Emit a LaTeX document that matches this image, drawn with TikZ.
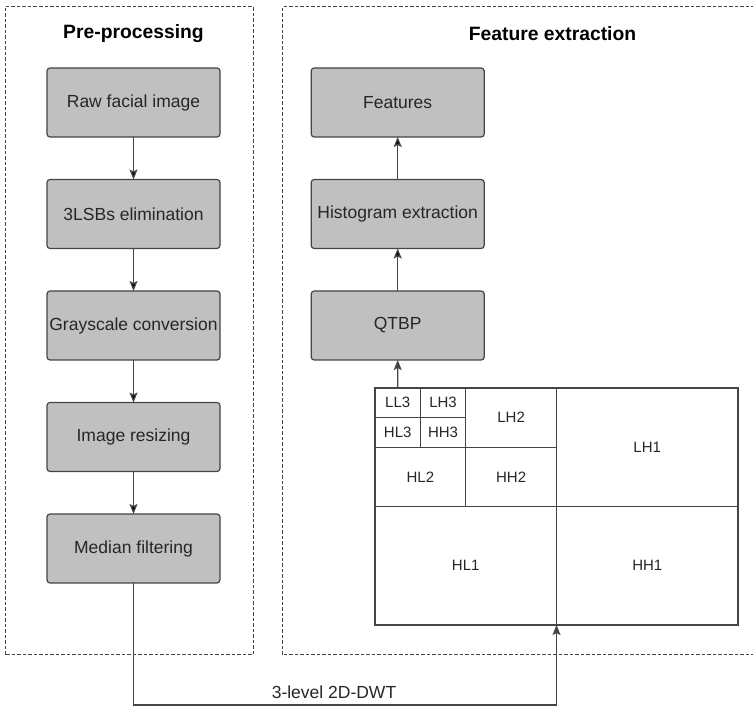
\documentclass[tikz,border=0pt]{standalone}
\usepackage{fontspec}
\setmainfont{Liberation Sans}
\usepackage{tikz}
\usetikzlibrary{positioning, arrows.meta}
\definecolor{boxgray}{HTML}{C0C0C0}
\definecolor{linegray}{HTML}{454545}
\tikzset{
>={Stealth[length=10pt, width=8pt, inset=2pt]}, % filled arrow heads
node distance=42.5pt, % gap between two stacked boxes
stage/.style={draw=linegray, line width=1.2pt, fill=boxgray, rounded corners=3pt, outer sep=0pt, minimum width=173pt, minimum height=69pt, inner xsep=1pt, text=black!85, font=\fontsize{17.5}{20}\selectfont}, % grey process boxes
panel/.style={draw=linegray, line width=1pt, dash pattern=on 3.5pt off 2pt}, % dashed frames
title/.style={font=\fontsize{19.3}{22}\selectfont\bfseries},
band/.style={draw=linegray, line width=1.2pt, outer sep=0pt, inner sep=0pt, text=black!85, font=\fontsize{15}{17}\selectfont}, % DWT sub-bands
bandA/.style={band, minimum width=181.5pt, minimum height=118.5pt},
bandB/.style={band, minimum width=90.75pt, minimum height=59.25pt},
bandC/.style={band, minimum width=45.375pt, minimum height=29.625pt},
flow/.style={->, draw=linegray, line width=1.2pt},
}

\begin{document}
\begin{tikzpicture}
    \useasboundingbox (0,0) rectangle (753pt,709pt);
    % Frames
    \draw[panel] (5pt,54pt) rectangle (253pt,702pt);
    \draw[panel] (282.5pt,54pt) rectangle (822pt,702pt);
    \node[title] (pretitle) at (133.5pt,675pt) {Pre-processing};
    \node[title] (feattitle) at (552.5pt,675pt) {Feature extraction};

    % Pre-processing
    \node[stage] (raw) at (133.5pt,606.5pt) {Raw facial image};
    \node[stage, below=of raw] (lsb) {3LSBs elimination};
    \node[stage, below=of lsb] (gray) {Grayscale conversion};
    \node[stage, below=of gray] (resize) {Image resizing};
    \node[stage, below=of resize] (median) {Median filtering};
    \draw[flow]
    (raw) edge (lsb)
    (lsb) edge (gray)
    (gray) edge (resize)
    (resize) edge (median);

    % Feature extraction
    \node[stage] (feat) at (397.7pt,606.5pt) {Features};
    \node[stage, below=of feat] (hist) {Histogram extraction};
    \node[stage, below=of hist] (qtbp) {QTBP};
    \draw[flow]
    (qtbp) edge (hist)
    (hist) edge (feat);

    % 3-level DWT sub-bands
    \node[bandA, anchor=south west] (hl1) at (375pt,84pt) {HL1};
    \node[bandA, right=0pt of hl1] (hh1) {HH1};
    \node[bandA, above=0pt of hh1] (lh1) {LH1};
    \node[bandB, anchor=south west] (hl2) at (hl1.north west) {HL2};
    \node[bandB, right=0pt of hl2] (hh2) {HH2};
    \node[bandB, above=0pt of hh2] (lh2) {LH2};
    \node[bandC, anchor=south west] (hl3) at (hl2.north west) {HL3};
    \node[bandC, right=0pt of hl3] (hh3) {HH3};
    \node[bandC, above=0pt of hl3] (ll3) {LL3};
    \node[bandC, above=0pt of hh3] (lh3) {LH3};
    \draw[flow] (ll3.north) -- (qtbp.south);

    % Transform link
    \draw[flow] (median.south) -- ++(0,-122pt) -| node[pos=0.237, above=2pt, text=black!85, font=\fontsize{17.5}{20}\selectfont] (dwtlabel) {3-level 2D-DWT} (hl1.south east);
\end{tikzpicture}
\end{document}
